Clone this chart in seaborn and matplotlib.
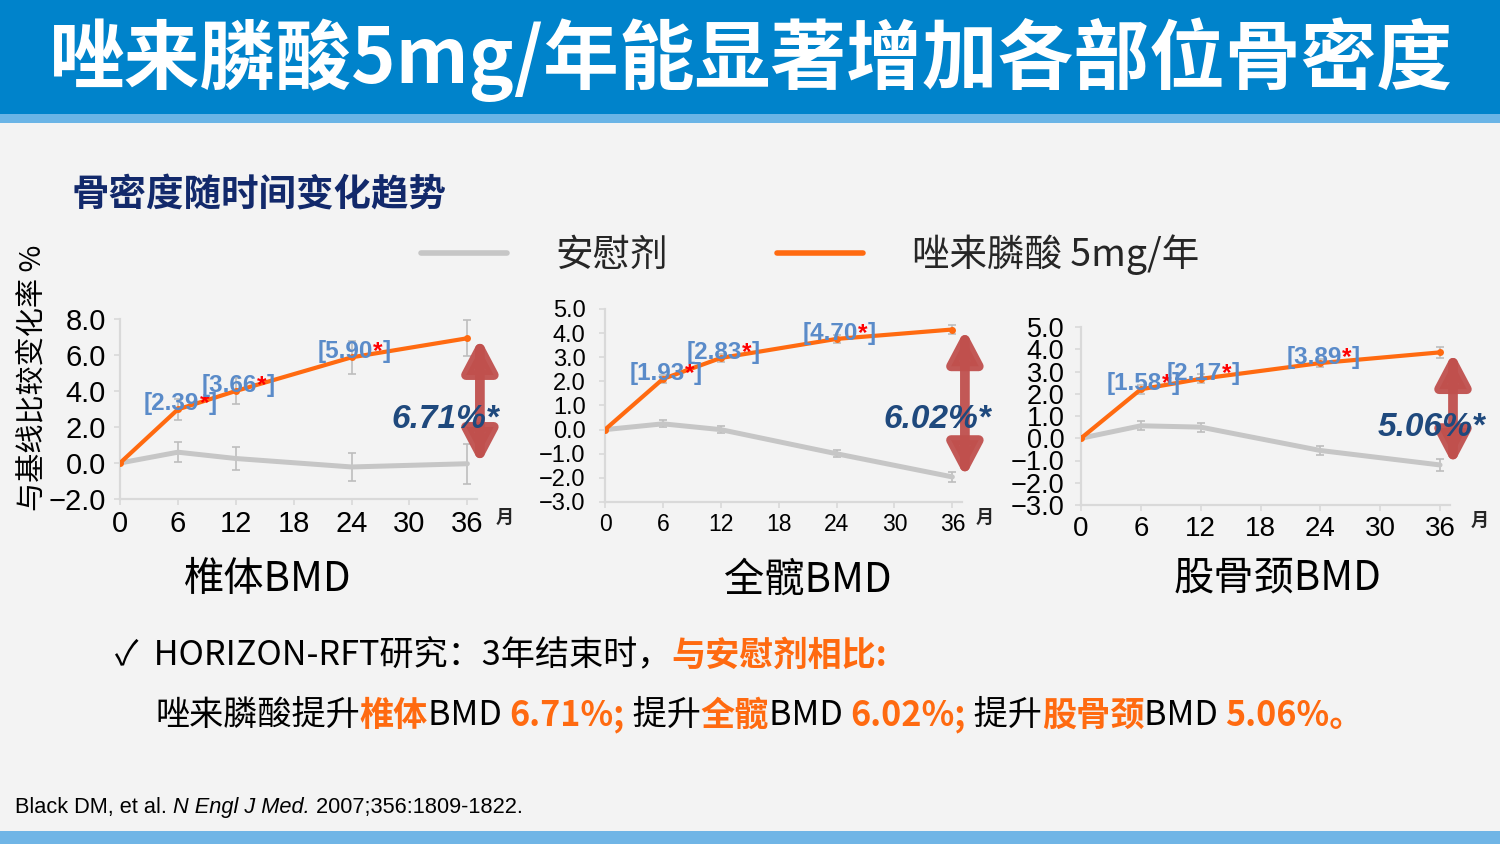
import numpy as np
import pandas as pd
import matplotlib
matplotlib.use("Agg")
import matplotlib.pyplot as plt
from matplotlib.patches import Rectangle, FancyArrowPatch
from matplotlib.lines import Line2D
import seaborn as sns

# months on the x axis
MONTHS = [0, 6, 12, 24, 36]

# % change from baseline
SPINE_ZOL = [0.0, 2.98, 4.0, 5.87, 6.93]
SPINE_PBO = [0.0, 0.60, 0.25, -0.22, -0.04]
SPINE_ZOL_ERR = [0.0, 0.6, 0.7, 0.9, 1.0]
SPINE_PBO_ERR = [0.0, 0.55, 0.65, 0.8, 1.1]

HIP_ZOL = [0.0, 2.10, 2.97, 3.76, 4.15]
HIP_PBO = [0.0, 0.24, 0.0, -1.0, -1.96]
HIP_ZOL_ERR = [0.0, 0.15, 0.15, 0.15, 0.2]
HIP_PBO_ERR = [0.0, 0.15, 0.15, 0.15, 0.2]

NECK_ZOL = [0.0, 2.20, 2.67, 3.38, 3.86]
NECK_PBO = [0.0, 0.56, 0.50, -0.55, -1.20]
NECK_ZOL_ERR = [0.0, 0.2, 0.2, 0.2, 0.25]
NECK_PBO_ERR = [0.0, 0.2, 0.2, 0.2, 0.25]

# placebo-adjusted differences shown at 6/12/24 months
GAP_MONTHS = [6, 12, 24]
SPINE_GAPS = ["2.39", "3.66", "5.90"]
HIP_GAPS = ["1.93", "2.83", "4.70"]
NECK_GAPS = ["1.58", "2.17", "3.89"]

PANEL_NAMES = ["椎体BMD", "全髋BMD", "股骨颈BMD"]
TOTALS = ["6.71%*", "6.02%*", "5.06%*"]
SERIES = ["安慰剂", "唑来膦酸 5mg/年"]
XTICKS = [0, 6, 12, 18, 24, 30, 36]

ORANGE = "#FF6A10"
GREY = "#C6C6C6"
BLUE_LBL = "#5A8BC9"
NAVY = "#1F497D"
ARROW = "#C0504D"
CJK = ["Noto Sans CJK SC", "DejaVu Sans"]
LAT = ["Liberation Sans", "DejaVu Sans"]

sns.set_theme(style="white")
plt.rcParams["font.family"] = CJK
plt.rcParams["axes.unicode_minus"] = True

W, H = 1500, 844
fig = plt.figure(figsize=(15, 8.44), dpi=100, facecolor="#F3F3F3")

# overlay in pixel coordinates for slide furniture
bg = fig.add_axes([0, 0, 1, 1], zorder=0)
bg.set_xlim(0, W)
bg.set_ylim(H, 0)
bg.axis("off")
bg.add_patch(Rectangle((0, 0), W, 114, color="#0083CB", lw=0))
bg.add_patch(Rectangle((0, 114), W, 9, color="#6AB4E6", lw=0))
bg.add_patch(Rectangle((0, 831), W, 13, color="#70B5E6", lw=0))

bg.text(751, 60, "唑来膦酸5mg/年能显著增加各部位骨密度", color="white",
        fontsize=54.5, fontweight="bold", ha="center", va="center")
bg.text(72, 195, "骨密度随时间变化趋势", color="#12296B", fontsize=27,
        fontweight="bold", ha="left", va="center")
bg.text(32, 378, "与基线比较变化率 %", rotation=90, fontsize=21,
        ha="center", va="center", color="black")


def px_axes(left, top, right, bottom):
    return fig.add_axes([left / W, 1 - bottom / H, (right - left) / W, (bottom - top) / H],
                        zorder=2, facecolor="none")


def chain(ax, first, parts, fontsize, family):
    prev = first
    for text, color, weight, style in parts:
        prev = ax.annotate(text, xy=(1, 0), xycoords=prev, ha="left", va="bottom",
                           color=color, fontweight=weight, fontstyle=style,
                           fontsize=fontsize, family=family, annotation_clip=False)
    return prev


panels = [
    (PANEL_NAMES[0], SPINE_ZOL, SPINE_PBO, SPINE_ZOL_ERR, SPINE_PBO_ERR, SPINE_GAPS, TOTALS[0],
     (120, 319, 477, 499), (-2, 8), np.arange(-2, 9, 2), 21, 21, 6,
     (268, 580), (445, 420), (505, 517)),
    (PANEL_NAMES[1], HIP_ZOL, HIP_PBO, HIP_ZOL_ERR, HIP_PBO_ERR, HIP_GAPS, TOTALS[1],
     (605, 309, 962, 502), (-3, 5), np.arange(-3, 6, 1), 17, 16.5, 10,
     (808, 580), (937, 420), (985, 517)),
    (PANEL_NAMES[2], NECK_ZOL, NECK_PBO, NECK_ZOL_ERR, NECK_PBO_ERR, NECK_GAPS, TOTALS[2],
     (1081, 327, 1450, 505), (-3, 5), np.arange(-3, 6, 1), 19.5, 20, 8,
     (1278, 578), (1432, 428), (1480, 520)),
]

for (name, zol, pbo, zerr, perr, gaps, total, box, ylim, yticks,
     ysize, xsize, ypad, name_xy, total_xy, month_xy) in panels:
    ax = px_axes(*box)
    df = pd.DataFrame({"month": MONTHS * 2,
                       "value": pbo + zol,
                       "group": [SERIES[0]] * len(MONTHS) + [SERIES[1]] * len(MONTHS)})

    ax.errorbar(MONTHS, pbo, yerr=perr, fmt="none", ecolor="#BDBDBD",
                elinewidth=1.2, capsize=3, capthick=1.2, zorder=1)
    ax.errorbar(MONTHS, zol, yerr=zerr, fmt="none", ecolor="#BDBDBD",
                elinewidth=1.2, capsize=3, capthick=1.2, zorder=1)
    sns.lineplot(data=df[df.group == SERIES[0]], x="month", y="value", ax=ax,
                 color=GREY, linewidth=3.6, zorder=2, legend=False)
    sns.lineplot(data=df[df.group == SERIES[1]], x="month", y="value", ax=ax,
                 color=ORANGE, linewidth=3.0, marker="o", markersize=5,
                 markeredgewidth=0, zorder=3, legend=False)

    ax.set_xlim(0, 37)
    ax.set_ylim(*ylim)
    ax.set_xticks(XTICKS)
    ax.set_yticks(yticks)
    ax.set_yticklabels([f"{v:.1f}".replace("-", "\u2212") for v in yticks],
                       fontsize=ysize, family=LAT)
    ax.set_xticklabels([str(v) for v in XTICKS], fontsize=xsize, family=LAT)
    ax.set_xlabel("")
    ax.set_ylabel("")
    for side in ["top", "right"]:
        ax.spines[side].set_visible(False)
    for side in ["left", "bottom"]:
        ax.spines[side].set_color("#D9D9D9")
        ax.spines[side].set_linewidth(1.6)
    ax.tick_params(axis="both", direction="out", length=4, width=1.2,
                   color="#D9D9D9", labelcolor="black", pad=4, left=True, bottom=True)
    ax.tick_params(axis="y", pad=ypad)

    # placebo-adjusted difference labels: "[x.xx" ends near the point, then red * and ]
    for m, g in zip(GAP_MONTHS, gaps):
        y = zol[MONTHS.index(m)]
        first = ax.annotate(f"[{g}", xy=(m, y), xytext=(15.5, 4), textcoords="offset points",
                            ha="right", va="center", fontsize=17.5, fontweight="bold",
                            family=LAT, color=BLUE_LBL, zorder=5)
        chain(ax, first, [("*", "red", "bold", "normal"), ("]", BLUE_LBL, "bold", "normal")],
              17.5, LAT)

    # double arrow between end points
    arr = FancyArrowPatch((37.3, zol[-1]), (37.3, pbo[-1]),
                          arrowstyle="<|-|>,head_length=0.95,head_width=0.5",
                          mutation_scale=20, lw=7, color=ARROW, alpha=0.95,
                          shrinkA=0, shrinkB=0, clip_on=False, zorder=6)
    ax.add_patch(arr)
    ax.text(*total_xy, total, transform=bg.transData, ha="center", va="center",
            fontsize=24, fontweight="bold", fontstyle="italic", color=NAVY,
            family=LAT, zorder=8, clip_on=False)

    bg.text(*name_xy, name, fontsize=29, ha="center", va="center", color="black")
    bg.text(*month_xy, "月", fontsize=13, fontweight="bold", ha="center", va="center")

# legend
handles = [Line2D([], [], color=GREY, lw=4), Line2D([], [], color=ORANGE, lw=4)]
fig.legend(handles, SERIES, loc="center", bbox_to_anchor=(810 / W, 1 - 255 / H), ncol=2,
           frameon=False, fontsize=27, handlelength=2.3, handletextpad=1.3,
           columnspacing=2.9)

# bottom conclusions
first = bg.text(115, 673, "✓  HORIZON-RFT研究：3年结束时，", fontsize=24.6,
                ha="left", va="bottom", color="black")
chain(bg, first, [("与安慰剂相比:", ORANGE, "bold", "normal")], 24.6, CJK)

first = bg.text(155, 733, "唑来膦酸提升", fontsize=24.6, ha="left", va="bottom", color="black")
chain(bg, first, [
    ("椎体", ORANGE, "bold", "normal"), ("BMD ", "black", "normal", "normal"),
    ("6.71%;", ORANGE, "bold", "normal"), (" 提升", "black", "normal", "normal"),
    ("全髋", ORANGE, "bold", "normal"), ("BMD ", "black", "normal", "normal"),
    ("6.02%;", ORANGE, "bold", "normal"), (" 提升", "black", "normal", "normal"),
    ("股骨颈", ORANGE, "bold", "normal"), ("BMD ", "black", "normal", "normal"),
    ("5.06%。", ORANGE, "bold", "normal"),
], 24.6, CJK)

first = bg.text(15, 818, "Black DM, et al. ", fontsize=15.7, ha="left", va="bottom",
                family=LAT, color="black")
chain(bg, first, [("N Engl J Med.", "black", "normal", "italic"),
                  (" 2007;356:1809-1822.", "black", "normal", "normal")], 15.7, LAT)

fig.savefig("out.png", dpi=100, facecolor=fig.get_facecolor())
